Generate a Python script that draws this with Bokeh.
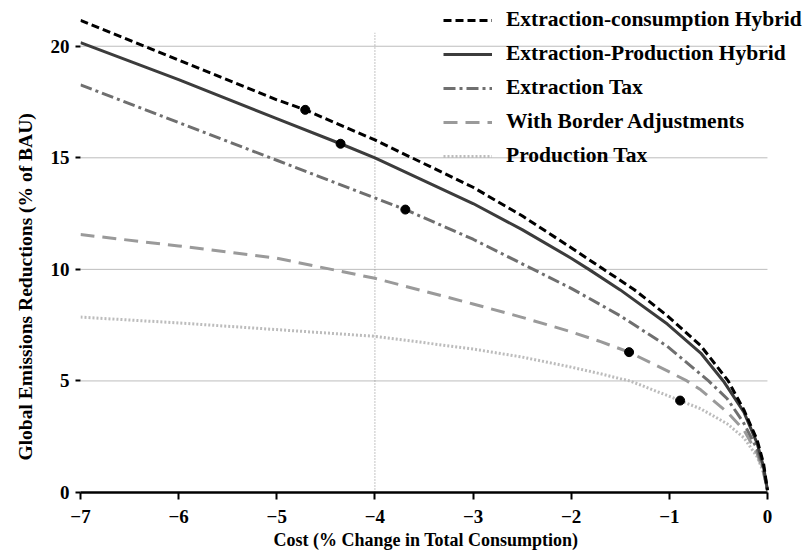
from bokeh.plotting import figure
from bokeh.models import Legend, LegendItem, Range1d, FixedTicker, Title
from bokeh.embed import file_html
from bokeh.resources import INLINE

# ---- data ----
ec_x = [-7, -6, -5, -4.71, -4, -3, -2.5, -2, -1.67, -1.36, -1.02, -0.68, -0.40, -0.24, -0.105, -0.04, 0]
ec_y = [21.16, 19.38, 17.6, 17.15, 15.8, 13.68, 12.4, 10.97, 10.0, 9.1, 7.92, 6.58, 5.0, 3.7, 2.35, 1.3, 0.1]

ep_x = [-7, -6, -5, -4.35, -4, -3, -2.5, -2, -1.82, -1.5, -1.02, -0.68, -0.45, -0.24, -0.105, -0.04, 0]
ep_y = [20.16, 18.5, 16.76, 15.63, 15.0, 12.95, 11.78, 10.5, 10.0, 9.08, 7.55, 6.25, 5.0, 3.6, 2.2, 1.15, 0.1]

et_x = [-7, -6, -5, -4, -3.69, -3, -2.5, -2, -1.5, -1.02, -0.60, -0.41, -0.24, -0.105, -0.04, 0]
et_y = [18.27, 16.58, 14.89, 13.2, 12.68, 11.35, 10.25, 9.15, 7.92, 6.55, 5.0, 4.2, 3.1, 1.95, 1.0, 0.1]

ba_x = [-7, -6, -5, -4, -3, -2.5, -2, -1.7, -1.41, -1.02, -0.82, -0.68, -0.41, -0.24, -0.105, -0.04, 0]
ba_y = [11.56, 11.05, 10.5, 9.6, 8.45, 7.85, 7.2, 6.76, 6.29, 5.45, 5.0, 4.6, 3.6, 2.8, 1.75, 0.9, 0.1]

pt_x = [-7, -6, -5, -4, -3, -2.5, -2, -1.7, -1.5, -1.4, -0.89, -0.68, -0.41, -0.24, -0.105, -0.04, 0]
pt_y = [7.86, 7.6, 7.3, 7.0, 6.43, 6.07, 5.62, 5.32, 5.1, 5.0, 4.12, 3.75, 3.08, 2.45, 1.6, 0.9, 0.1]

dot_x = [-4.71, -4.35, -3.69, -1.41, -0.89]
dot_y = [17.15, 15.63, 12.68, 6.29, 4.12]

series_names = ["Extraction-consumption Hybrid", "Extraction-Production Hybrid",
                "Extraction Tax", "With Border Adjustments", "Production Tax"]
x_label = "Cost (% Change in Total Consumption)"
y_label = "Global Emissions Reductions (% of BAU)"

x_ticks = [-7, -6, -5, -4, -3, -2, -1, 0]
x_tick_labels = ["\u22127", "\u22126", "\u22125", "\u22124", "\u22123", "\u22122", "\u22121", "0"]
y_ticks = [0, 5, 10, 15, 20]
grid_levels = [5, 10, 15, 20]
x_min, x_max = -7, 0
vline_x = -4
vline_top = 20.6

FONT = "Liberation Serif"

p = figure(width=807, height=553, output_backend="svg", toolbar_location=None,
           x_range=Range1d(-7, 0.408), y_range=Range1d(0, 22.05),
           min_border_left=80, min_border_right=0, min_border_top=0, min_border_bottom=61)
p.outline_line_color = None
p.background_fill_color = "white"
p.border_fill_color = "white"
p.xgrid.visible = False
p.ygrid.visible = False

# horizontal grid lines spanning only the data extent
p.segment(x0=[x_min] * len(grid_levels), y0=grid_levels,
          x1=[x_max] * len(grid_levels), y1=grid_levels,
          line_color="#bdbdbd", line_width=1)

# vertical dotted reference line
p.segment(x0=[vline_x], y0=[0], x1=[vline_x], y1=[vline_top], line_color="#8a8a8a",
          line_width=1, line_dash="1 2")

r_pt = p.line(pt_x, pt_y, line_color="#bcbcbc", line_width=3, line_dash="2 2")
r_ba = p.line(ba_x, ba_y, line_color="#9a9a9a", line_width=3, line_dash="14 8")
r_et = p.line(et_x, et_y, line_color="#6f6f6f", line_width=3, line_dash="12 4 3 4")
r_ep = p.line(ep_x, ep_y, line_color="#3c3c3c", line_width=3)
r_ec = p.line(ec_x, ec_y, line_color="black", line_width=3, line_dash="8 4")
p.scatter(dot_x, dot_y, size=9, color="black")

# axes
xa = p.xaxis[0]
xa.bounds = (x_min, x_max)
xa.ticker = FixedTicker(ticks=x_ticks)
xa.major_label_overrides = {t: l for t, l in zip(x_ticks, x_tick_labels)}
xa.axis_line_color = "black"
xa.axis_line_width = 2.5
xa.major_tick_line_width = 2
xa.major_tick_out = 7
xa.major_tick_in = 0
xa.minor_tick_line_color = None
xa.major_label_standoff = 10
xa.major_label_text_font = FONT
xa.major_label_text_font_style = "bold"
xa.major_label_text_font_size = "19px"
xa.major_label_text_color = "black"

ya = p.yaxis[0]
ya.ticker = FixedTicker(ticks=y_ticks)
ya.axis_line_color = None
ya.major_tick_line_width = 2
ya.major_tick_out = 5
ya.major_tick_in = 0
ya.minor_tick_line_color = None
ya.major_label_standoff = 6
ya.major_label_text_font = FONT
ya.major_label_text_font_style = "bold"
ya.major_label_text_font_size = "19px"
ya.major_label_text_color = "black"

# axis titles placed as side titles so they can be offset like the reference
xt = Title(text=x_label, align="left", offset=193, text_font=FONT, text_font_style="bold",
           text_font_size="18px", text_color="black", standoff=4)
p.add_layout(xt, "below")
yt = Title(text=y_label, align="left", offset=32, text_font=FONT, text_font_style="bold",
           text_font_size="19.5px", text_color="black", standoff=23)
p.add_layout(yt, "left")

legend = Legend(items=[
    LegendItem(label=series_names[0], renderers=[r_ec]),
    LegendItem(label=series_names[1], renderers=[r_ep]),
    LegendItem(label=series_names[2], renderers=[r_et]),
    LegendItem(label=series_names[3], renderers=[r_ba]),
    LegendItem(label=series_names[4], renderers=[r_pt]),
], location=(363, 324))
legend.padding = 0
legend.margin = 0
legend.spacing = 9
legend.glyph_width = 49
legend.glyph_height = 24
legend.label_height = 24
legend.label_standoff = 14
legend.label_text_font = FONT
legend.label_text_font_style = "bold"
legend.label_text_font_size = "21.5px"
legend.label_text_color = "black"
legend.background_fill_alpha = 0
legend.border_line_alpha = 0
p.add_layout(legend, "center")

open("out.html", "w").write(file_html(p, INLINE))
